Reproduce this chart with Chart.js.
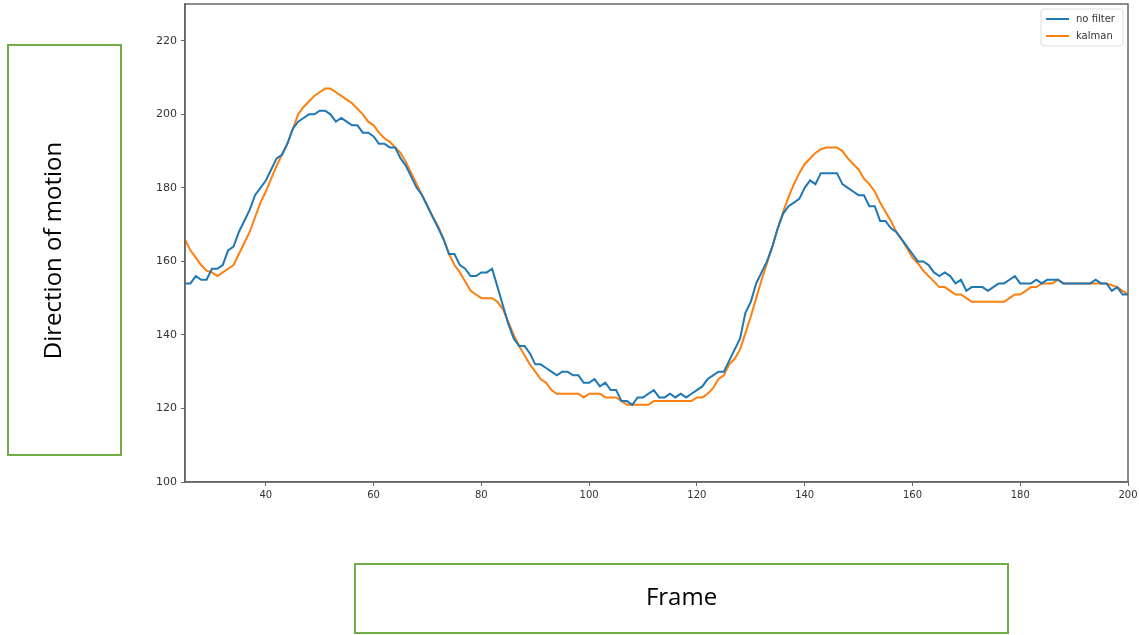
<!DOCTYPE html>
<html>
<head>
<meta charset="utf-8">
<script src="https://cdn.jsdelivr.net/npm/chart.js@4.4.0/dist/chart.umd.min.js"></script>
<style>
  body { margin: 0; background: #fff; }
  #wrap { position: relative; width: 1139px; height: 635px; }
  #grafico { position: absolute; left: 0; top: 0; }
  .caja { position: absolute; border: 2px solid #70ad47; box-sizing: border-box;
          font-family: "Open Sans", "Noto Sans", sans-serif; font-size: 24px; color: #000;
          display: flex; align-items: center; justify-content: center; }
  #cajaY { left: 7px; top: 44px; width: 115px; height: 412px; padding-right: 26px; }
  #cajaY span { transform: rotate(-90deg); white-space: nowrap; }
  #cajaX { left: 354px; top: 563px; width: 655px; height: 71px; padding-bottom: 6px; }
</style>
</head>
<body>
<div id="wrap">
  <canvas id="grafico" width="1139" height="635"></canvas>
  <div class="caja" id="cajaY"><span>Direction of motion</span></div>
  <div class="caja" id="cajaX"><span>Frame</span></div>
</div>
<script>
// Frames 25..200
const primerFrame = 25;
const frames = Array.from({ length: 176 }, (_, i) => primerFrame + i);

// Serie sin filtro (no filter)
const sinFiltro = [
  154, 154, 156, 155, 155, 158, 158, 159, 163, 164,
  168, 171, 174, 178, 180, 182, 185, 188, 189, 192,
  196, 198, 199, 200, 200, 201, 201, 200, 198, 199,
  198, 197, 197, 195, 195, 194, 192, 192, 191, 191,
  188, 186, 183, 180, 178, 175, 172, 169, 166, 162,
  162, 159, 158, 156, 156, 157, 157, 158, 153, 148,
  143, 139, 137, 137, 135, 132, 132, 131, 130, 129,
  130, 130, 129, 129, 127, 127, 128, 126, 127, 125,
  125, 122, 122, 121, 123, 123, 124, 125, 123, 123,
  124, 123, 124, 123, 124, 125, 126, 128, 129, 130,
  130, 133, 136, 139, 146, 149, 154, 157, 160, 164,
  169, 173, 175, 176, 177, 180, 182, 181, 184, 184,
  184, 184, 181, 180, 179, 178, 178, 175, 175, 171,
  171, 169, 168, 166, 164, 162, 160, 160, 159, 157,
  156, 157, 156, 154, 155, 152, 153, 153, 153, 152,
  153, 154, 154, 155, 156, 154, 154, 154, 155, 154,
  155, 155, 155, 154, 154, 154, 154, 154, 154, 155,
  154, 154, 152, 153, 151, 151
];

// Serie filtrada (kalman)
const kalman = [
  166, 163, 161, 159, 157.5, 157, 156, 157, 158, 159,
  162, 165, 168, 172, 176, 179, 182.5, 186, 189, 192,
  196, 200, 202, 203.5, 205, 206, 207, 207, 206, 205,
  204, 203, 201.5, 200, 198, 197, 195, 193.5, 192.5, 191,
  189.5, 187, 184, 181, 178, 175, 172, 169.5, 166, 162,
  159, 157, 154.5, 152, 151, 150, 150, 150, 149, 147,
  143.5, 140, 137, 134.5, 132, 130, 128, 127, 125, 124,
  124, 124, 124, 124, 123, 124, 124, 124, 123, 123,
  123, 122, 121, 121, 121, 121, 121, 122, 122, 122,
  122, 122, 122, 122, 122, 123, 123, 124, 125.5, 128,
  129, 132, 133.5, 136, 140.5, 145, 150, 155, 159.5, 164,
  169, 173.5, 177.5, 181, 184, 186.5, 188, 189.5, 190.5, 191,
  191, 191, 190, 188, 186.5, 185, 182.5, 181, 179, 176,
  173.5, 171, 168, 166, 163.5, 161, 159.5, 157.5, 156, 154.5,
  153, 153, 152, 151, 151, 150, 149, 149, 149, 149,
  149, 149, 149, 150, 151, 151, 152, 153, 153, 154,
  154, 154, 155, 154, 154, 154, 154, 154, 154, 154,
  154, 154, 153.5, 153, 152, 151
];

const ticksX = [40, 60, 80, 100, 120, 140, 160, 180, 200];
const ticksY = [100, 120, 140, 160, 180, 200, 220];

const colorAzul = "#1f77b4";
const colorNaranja = "#ff7f0e";

// Marco completo del área (spines de arriba y derecha)
const marco = {
  id: "marco",
  afterDraw(chart) {
    const { ctx, chartArea: a } = chart;
    ctx.save();
    ctx.strokeStyle = "#666";
    ctx.lineWidth = 1.5;
    ctx.strokeRect(a.left, a.top, a.right - a.left, a.bottom - a.top);
    ctx.restore();
  },
};

// Leyenda arriba a la derecha, estilo matplotlib
const leyenda = {
  id: "leyenda",
  afterDraw(chart) {
    const { ctx, chartArea: a } = chart;
    const w = 82, h = 37;
    const x = a.right - w - 5, y = a.top + 5;
    ctx.save();
    ctx.strokeStyle = "#ddd";
    ctx.lineWidth = 1;
    ctx.beginPath();
    ctx.roundRect(x, y, w, h, 3);
    ctx.fillStyle = "rgba(255,255,255,0.8)";
    ctx.fill();
    ctx.stroke();
    ctx.font = "10px 'DejaVu Sans'";
    ctx.textBaseline = "middle";
    chart.data.datasets.forEach((ds, i) => {
      const yy = y + 10 + i * 17;
      ctx.strokeStyle = ds.borderColor;
      ctx.lineWidth = 2;
      ctx.beginPath();
      ctx.moveTo(x + 5, yy);
      ctx.lineTo(x + 28, yy);
      ctx.stroke();
      ctx.fillStyle = "#333";
      ctx.fillText(ds.label, x + 35, yy);
    });
    ctx.restore();
  },
};

const ctx = document.getElementById("grafico");

new Chart(ctx, {
  type: "line",
  data: {
    datasets: [
      {
        label: "no filter",
        data: frames.map((f, i) => ({ x: f, y: sinFiltro[i] })),
        borderColor: colorAzul,
        borderWidth: 2,
        pointRadius: 0,
        fill: false,
      },
      {
        label: "kalman",
        data: frames.map((f, i) => ({ x: f, y: kalman[i] })),
        borderColor: colorNaranja,
        borderWidth: 2,
        pointRadius: 0,
        fill: false,
      },
    ],
  },
  options: {
    responsive: false,
    animation: false,
    devicePixelRatio: 1,
    layout: { padding: { left: 0, top: 4, right: 11, bottom: 0 } },
    plugins: {
      legend: { display: false },
      tooltip: { enabled: false },
    },
    scales: {
      x: {
        type: "linear",
        min: 25,
        max: 200,
        afterBuildTicks: (s) => { s.ticks = ticksX.map((v) => ({ value: v })); },
        afterFit: (s) => { s.height = 153; s.paddingLeft = 0; s.paddingRight = 0; },
        ticks: { color: "#333", padding: 3, font: { family: "DejaVu Sans", size: 10 } },
        grid: { drawOnChartArea: false, drawTicks: true, tickLength: 4, color: "#666" },
        border: { display: true, color: "#666", width: 1.5 },
      },
      y: {
        type: "linear",
        min: 100,
        max: 230,
        afterBuildTicks: (s) => { s.ticks = ticksY.map((v) => ({ value: v })); },
        afterFit: (s) => { s.width = 185; s.paddingTop = 0; s.paddingBottom = 0; },
        ticks: { color: "#333", padding: 4, font: { family: "DejaVu Sans", size: 11 } },
        grid: { drawOnChartArea: false, drawTicks: true, tickLength: 4, color: "#666" },
        border: { display: true, color: "#666", width: 1.5 },
      },
    },
  },
  plugins: [marco, leyenda],
});
</script>
</body>
</html>
